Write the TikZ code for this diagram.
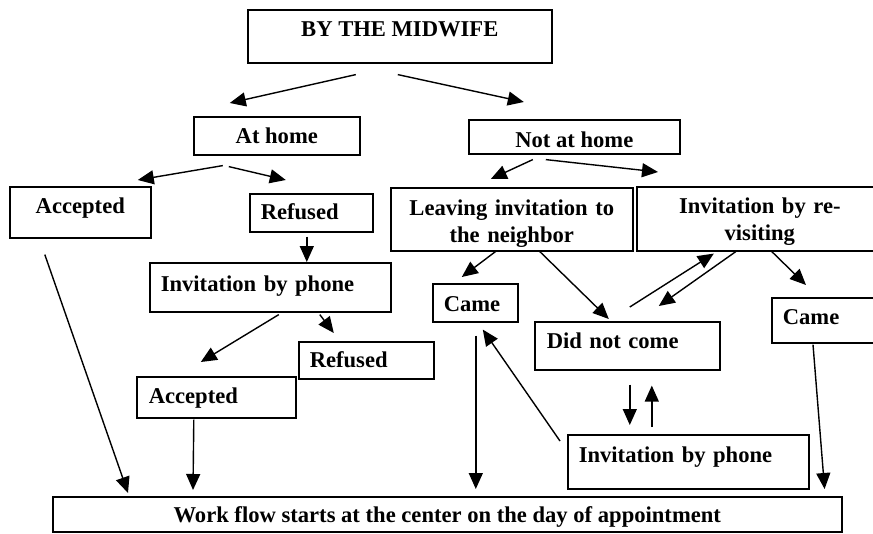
\documentclass[tikz,border=0pt]{standalone}
\usepackage{fontspec}
\setmainfont{Liberation Serif}
\usepackage{tikz}
\usetikzlibrary{arrows.meta,positioning}
\tikzstyle{box} = [draw, line width=1.6pt, anchor=north west, inner ysep=0pt, inner xsep=0pt, font=\bfseries\fontsize{22.6}{27}\selectfont]
\tikzstyle{lbox} = [box, align=left, inner xsep=11pt]
\tikzstyle{arrow} = [line width=1.4pt,-{Triangle[length=16pt,width=14pt]}]

\begin{document}
\begin{tikzpicture}[x=1pt,y=-1pt]
            \clip (0,0) rectangle (873,533);
            \node[box, minimum width=304pt, text height=27pt, text depth=26pt] (midwife) at (247,9) {BY THE MIDWIFE};
            \node[box, minimum width=166pt, text height=27pt, text depth=11pt] (athome) at (193,116) {At home};
            \node[box, minimum width=211pt, text height=28pt, text depth=6pt] (notathome) at (468,119) {Not at home};
            \node[box, minimum width=141pt, text height=27pt, text depth=24pt] (accone) at (9,186) {Accepted};
            \node[lbox, text width=101pt, text height=26pt, text depth=12pt] (refone) at (249,193) {Refused};
            \node[box, align=center, text width=242pt, text height=28pt, text depth=35pt] (leaving) at (390,187) {Leaving invitation to\\the neighbor};
            \node[box, align=center, text width=246pt, text height=27pt, text depth=37pt] (revisit) at (636,186) {Invitation by re-\\visiting};
            \node[lbox, text width=219pt, text height=29pt, text depth=20pt] (phoneone) at (149,262) {Invitation by phone};
            \node[lbox, text width=113pt, text height=26pt, text depth=11pt] (reftwo) at (298,341) {Refused};
            \node[lbox, inner xsep=12pt, text width=135pt, text height=27pt, text depth=14pt] (acctwo) at (136,376) {Accepted};
            \node[lbox, text width=63pt, text height=28pt, text depth=10pt] (cameone) at (432,283) {Came};
            \node[lbox, inner xsep=12pt, text width=161pt, text height=27pt, text depth=21pt] (notcome) at (534,321) {Did not come};
            \node[lbox, text width=219pt, text height=28pt, text depth=26pt] (phonetwo) at (567,434) {Invitation by phone};
            \node[lbox, text width=108pt, text height=27pt, text depth=18pt] (cametwo) at (771,297) {Came};
            \node[box, minimum width=789pt, text height=26pt, text depth=9pt] (workflow) at (52,496) {Work flow starts at the center on the day of appointment};

            \draw[arrow] ([shift={(-44,11)}]midwife.south) -- ([shift={(-47,-13)}]athome.north);
            \draw[arrow] ([shift={(-2,11)}]midwife.south) -- ([shift={(-50.5,-17)}]notathome.north);
            \draw[arrow] ([shift={(-54,10)}]athome.south) -- ([shift={(57.5,-6)}]accone.north);
            \draw[arrow] ([shift={(-48,11)}]athome.south) -- ([shift={(-25.5,-13)}]refone.north);
            \draw[arrow] ([shift={(-41.5,5)}]notathome.south) -- ([shift={(-21,-8)}]leaving.north);
            \draw[arrow] ([shift={(-28.5,5)}]notathome.south) -- ([shift={(22,-14)}]revisit.north west);
            \draw[arrow] ([shift={(-4.5,4)}]refone.south) -- ([shift={(36.5,0)}]phoneone.north);
            \draw[arrow] ([shift={(8.5,2)}]phoneone.south) -- ([shift={(-15.5,-14)}]acctwo.north);
            \draw[arrow] ([shift={(49.5,2)}]phoneone.south) -- ([shift={(-32.5,-8)}]reftwo.north);
            \draw[arrow] ([shift={(-35.5,16)}]accone.south) -- ([shift={(76,-3)}]workflow.north west);
            \draw[arrow] ([shift={(-22.5,1)}]acctwo.south) -- ([shift={(141,-6)}]workflow.north west);
            \draw[arrow] ([shift={(-15,-1)}]leaving.south) -- ([shift={(-13.5,-6)}]cameone.north);
            \draw[arrow] ([shift={(27,-1)}]leaving.south) -- ([shift={(-18.5,-2)}]notcome.north);
            \draw[arrow] ([shift={(2.5,-14)}]notcome.north) -- ([shift={(-46,2)}]revisit.south);
            \draw[arrow] ([shift={(-24,0)}]revisit.south) -- ([shift={(31.5,-15)}]notcome.north);
            \draw[arrow] ([shift={(12,0)}]revisit.south) -- ([shift={(35,-12)}]cametwo.north west);
            \draw[arrow] ([shift={(0.5,13)}]cameone.south) -- ([shift={(28.5,-7)}]workflow.north);
            \draw[arrow] ([shift={(-7,7)}]phonetwo.north west) -- ([shift={(7.5,7)}]cameone.south);
            \draw[arrow] ([shift={(2.5,14)}]notcome.south) -- ([shift={(-58.5,-9)}]phonetwo.north);
            \draw[arrow] ([shift={(-36.5,-7)}]phonetwo.north) -- ([shift={(24.5,15)}]notcome.south);
            \draw[arrow] ([shift={(42,1)}]cametwo.south west) -- ([shift={(-18,-7)}]workflow.north east);
        \end{tikzpicture}
\end{document}
